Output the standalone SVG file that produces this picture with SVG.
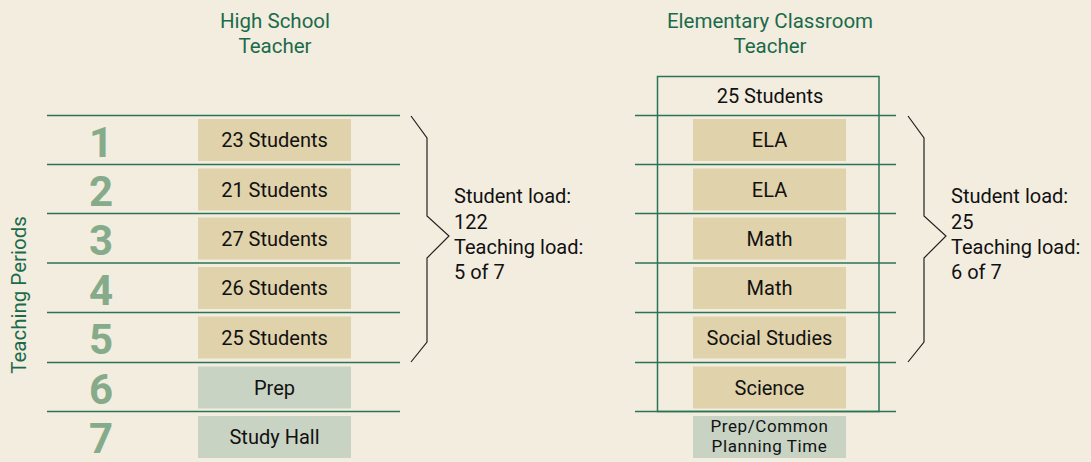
<svg xmlns="http://www.w3.org/2000/svg" width="1091" height="462" viewBox="0 0 1091 462">
<style>
text{font-family:Roboto,"DejaVu Sans Condensed","Liberation Sans",sans-serif;font-weight:normal}
.t{font-size:20.5px;fill:#1b6b4a;text-anchor:middle}
.n{font-size:42px;font-weight:bold;fill:#86ab8a;text-anchor:middle}
.b{fill:#e0d2aa}
.p{fill:#c8d3c4}
.l{font-size:20px;fill:#111;text-anchor:middle}
.s{font-size:20px;fill:#111}
.pc{font-size:17px;letter-spacing:0.6px}
.ln{stroke:#2a7355;stroke-width:1.5}
.br{fill:none;stroke:#222;stroke-width:1.2}
</style>
<rect width="1091" height="462" fill="#f3ede0"/>
<g id="titles">
<text class="t" x="275" y="28">High School</text>
<text class="t" x="275" y="53">Teacher</text>
<text class="t" x="770" y="28">Elementary Classroom</text>
<text class="t" x="770" y="53">Teacher</text>
<text class="t" transform="translate(26,295) rotate(-90)">Teaching Periods</text>
</g>
<g id="lines">
<line class="ln" x1="47" y1="115.5" x2="400" y2="115.5"/>
<line class="ln" x1="47" y1="164.5" x2="400" y2="164.5"/>
<line class="ln" x1="47" y1="213.5" x2="400" y2="213.5"/>
<line class="ln" x1="47" y1="263" x2="400" y2="263"/>
<line class="ln" x1="47" y1="312.5" x2="400" y2="312.5"/>
<line class="ln" x1="47" y1="362.5" x2="400" y2="362.5"/>
<line class="ln" x1="47" y1="411.5" x2="400" y2="411.5"/>
<line class="ln" x1="635" y1="115.5" x2="896" y2="115.5"/>
<line class="ln" x1="635" y1="164.5" x2="896" y2="164.5"/>
<line class="ln" x1="635" y1="213.5" x2="896" y2="213.5"/>
<line class="ln" x1="635" y1="263" x2="896" y2="263"/>
<line class="ln" x1="635" y1="312.5" x2="896" y2="312.5"/>
<line class="ln" x1="635" y1="362.5" x2="896" y2="362.5"/>
<line class="ln" x1="635" y1="411.5" x2="896" y2="411.5"/>
<rect x="657.5" y="76.5" width="221.5" height="335" fill="none" stroke="#2a7355" stroke-width="1.5"/>
</g>
<g id="numbers">
<text class="n" x="101" y="157">1</text>
<text class="n" x="101" y="206">2</text>
<text class="n" x="101" y="255">3</text>
<text class="n" x="101" y="305">4</text>
<text class="n" x="101" y="354">5</text>
<text class="n" x="101" y="404">6</text>
<text class="n" x="101" y="453">7</text>
</g>
<g id="hs-periods">
<rect class="b" x="198" y="119" width="153" height="42"/><text class="l" x="274.5" y="147">23 Students</text>
<rect class="b" x="198" y="168.5" width="153" height="42"/><text class="l" x="274.5" y="196.5">21 Students</text>
<rect class="b" x="198" y="217.5" width="153" height="42"/><text class="l" x="274.5" y="245.5">27 Students</text>
<rect class="b" x="198" y="267" width="153" height="42"/><text class="l" x="274.5" y="295">26 Students</text>
<rect class="b" x="198" y="316.5" width="153" height="42"/><text class="l" x="274.5" y="344.5">25 Students</text>
<rect class="p" x="198" y="366.5" width="153" height="42"/><text class="l" x="274.5" y="394.5">Prep</text>
<rect class="p" x="198" y="416" width="153" height="42"/><text class="l" x="274.5" y="444">Study Hall</text>
</g>
<g id="el-periods">
<text class="l" x="770" y="103">25 Students</text>
<rect class="b" x="693" y="119" width="153" height="42"/><text class="l" x="769.5" y="147">ELA</text>
<rect class="b" x="693" y="168.5" width="153" height="42"/><text class="l" x="769.5" y="196.5">ELA</text>
<rect class="b" x="693" y="217.5" width="153" height="42"/><text class="l" x="769.5" y="245.5">Math</text>
<rect class="b" x="693" y="267" width="153" height="42"/><text class="l" x="769.5" y="295">Math</text>
<rect class="b" x="693" y="316.5" width="153" height="42"/><text class="l" x="769.5" y="344.5">Social Studies</text>
<rect class="b" x="693" y="366.5" width="153" height="42"/><text class="l" x="769.5" y="394.5">Science</text>
<rect class="p" x="693" y="416" width="153" height="42"/><text class="l pc" x="769.5" y="431.5">Prep/Common</text><text class="l pc" x="769.5" y="451.5">Planning Time</text>
</g>
<g id="hs-load">
<path class="br" d="M411,116 L427,138 L427,216 L449,236 L427,258 L427,342 L411,362"/>
<text class="s" x="454" y="203">Student load:</text>
<text class="s" x="454" y="229">122</text>
<text class="s" x="454" y="254">Teaching load:</text>
<text class="s" x="454" y="279">5 of 7</text>
</g>
<g id="el-load">
<path class="br" d="M908,116 L924,138 L924,216 L946,236 L924,258 L924,342 L908,362"/>
<text class="s" x="951" y="203">Student load:</text>
<text class="s" x="951" y="229">25</text>
<text class="s" x="951" y="254">Teaching load:</text>
<text class="s" x="951" y="279">6 of 7</text>
</g>
</svg>
